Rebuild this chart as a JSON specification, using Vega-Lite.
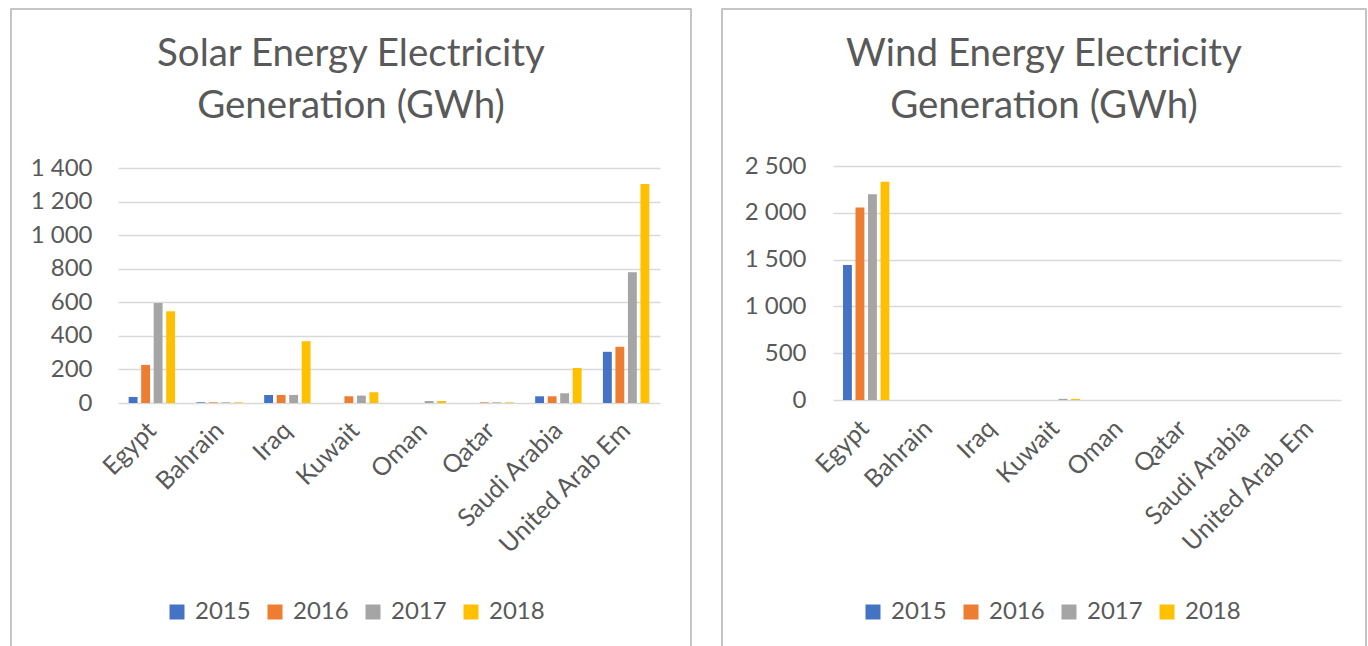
{
  "$schema": "https://vega.github.io/schema/vega-lite/v6.json",
  "background": "white",
  "padding": {"left": 10, "top": 8, "right": 0, "bottom": 0},
  "datasets": {
    "solar": [
      {"country": "Egypt", "year": "2015", "value": 36},
      {"country": "Egypt", "year": "2016", "value": 227},
      {"country": "Egypt", "year": "2017", "value": 596},
      {"country": "Egypt", "year": "2018", "value": 546},
      {"country": "Bahrain", "year": "2015", "value": 4},
      {"country": "Bahrain", "year": "2016", "value": 4},
      {"country": "Bahrain", "year": "2017", "value": 4},
      {"country": "Bahrain", "year": "2018", "value": 4},
      {"country": "Iraq", "year": "2015", "value": 48},
      {"country": "Iraq", "year": "2016", "value": 48},
      {"country": "Iraq", "year": "2017", "value": 48},
      {"country": "Iraq", "year": "2018", "value": 368},
      {"country": "Kuwait", "year": "2015", "value": 0},
      {"country": "Kuwait", "year": "2016", "value": 40},
      {"country": "Kuwait", "year": "2017", "value": 44},
      {"country": "Kuwait", "year": "2018", "value": 64},
      {"country": "Oman", "year": "2015", "value": 0},
      {"country": "Oman", "year": "2016", "value": 0},
      {"country": "Oman", "year": "2017", "value": 12},
      {"country": "Oman", "year": "2018", "value": 12},
      {"country": "Qatar", "year": "2015", "value": 0},
      {"country": "Qatar", "year": "2016", "value": 4},
      {"country": "Qatar", "year": "2017", "value": 4},
      {"country": "Qatar", "year": "2018", "value": 4},
      {"country": "Saudi Arabia", "year": "2015", "value": 40},
      {"country": "Saudi Arabia", "year": "2016", "value": 40},
      {"country": "Saudi Arabia", "year": "2017", "value": 58},
      {"country": "Saudi Arabia", "year": "2018", "value": 209},
      {"country": "United Arab Em", "year": "2015", "value": 305},
      {"country": "United Arab Em", "year": "2016", "value": 335},
      {"country": "United Arab Em", "year": "2017", "value": 779},
      {"country": "United Arab Em", "year": "2018", "value": 1305}
    ],
    "wind": [
      {"country": "Egypt", "year": "2015", "value": 1442},
      {"country": "Egypt", "year": "2016", "value": 2056},
      {"country": "Egypt", "year": "2017", "value": 2198},
      {"country": "Egypt", "year": "2018", "value": 2333},
      {"country": "Bahrain", "year": "2015", "value": 0},
      {"country": "Bahrain", "year": "2016", "value": 0},
      {"country": "Bahrain", "year": "2017", "value": 0},
      {"country": "Bahrain", "year": "2018", "value": 0},
      {"country": "Iraq", "year": "2015", "value": 0},
      {"country": "Iraq", "year": "2016", "value": 0},
      {"country": "Iraq", "year": "2017", "value": 0},
      {"country": "Iraq", "year": "2018", "value": 0},
      {"country": "Kuwait", "year": "2015", "value": 0},
      {"country": "Kuwait", "year": "2016", "value": 0},
      {"country": "Kuwait", "year": "2017", "value": 12},
      {"country": "Kuwait", "year": "2018", "value": 12},
      {"country": "Oman", "year": "2015", "value": 0},
      {"country": "Oman", "year": "2016", "value": 0},
      {"country": "Oman", "year": "2017", "value": 0},
      {"country": "Oman", "year": "2018", "value": 0},
      {"country": "Qatar", "year": "2015", "value": 0},
      {"country": "Qatar", "year": "2016", "value": 0},
      {"country": "Qatar", "year": "2017", "value": 0},
      {"country": "Qatar", "year": "2018", "value": 0},
      {"country": "Saudi Arabia", "year": "2015", "value": 0},
      {"country": "Saudi Arabia", "year": "2016", "value": 0},
      {"country": "Saudi Arabia", "year": "2017", "value": 0},
      {"country": "Saudi Arabia", "year": "2018", "value": 0},
      {"country": "United Arab Em", "year": "2015", "value": 0},
      {"country": "United Arab Em", "year": "2016", "value": 0},
      {"country": "United Arab Em", "year": "2017", "value": 0},
      {"country": "United Arab Em", "year": "2018", "value": 0}
    ]
  },
  "hconcat": [
    {
      "data": {"name": "solar"},
      "width": 680,
      "height": 660,
      "title": {"text": ["Solar Energy Electricity", "Generation (GWh)"], "offset": -117},
      "mark": {"type": "bar"},
      "encoding": {
        "x": {
          "field": "country", "type": "nominal", "sort": null,
          "scale": {"range": [107, 649], "paddingInner": 0.315, "paddingOuter": 0.1575},
          "axis": {"orient": "bottom", "title": null, "labelAngle": -45, "labelAlign": "right", "labelBaseline": "middle", "labelPadding": -243, "labelDx": 3, "labelFontSize": 25, "ticks": false, "tickSize": 0, "domain": false, "grid": false, "labelOverlap": false}
        },
        "xOffset": {"field": "year", "type": "nominal", "scale": {"paddingInner": 0.29, "paddingOuter": 0}},
        "y": {
          "field": "value", "type": "quantitative",
          "scale": {"domain": [0, 1400], "range": [394, 159], "nice": false, "zero": true},
          "axis": {"title": null, "values": [0, 200, 400, 600, 800, 1000, 1200, 1400], "format": ",d", "domain": false, "ticks": false, "tickSize": 0, "labelPadding": -81, "grid": true}
        },
        "color": {
          "field": "year", "type": "nominal",
          "scale": {"domain": ["2015", "2016", "2017", "2018"], "range": ["#4472C4", "#ED7D31", "#A5A5A5", "#FFC000"]},
          "legend": {"orient": "none", "legendX": 154, "legendY": 591, "direction": "horizontal", "title": null}
        }
      }
    },
    {
      "data": {"name": "wind"},
      "width": 644,
      "height": 660,
      "title": {"text": ["Wind Energy Electricity", "Generation (GWh)"], "offset": -117},
      "mark": {"type": "bar"},
      "encoding": {
        "x": {
          "field": "country", "type": "nominal", "sort": null,
          "scale": {"range": [111, 619], "paddingInner": 0.315, "paddingOuter": 0.1575},
          "axis": {"orient": "bottom", "title": null, "labelAngle": -45, "labelAlign": "right", "labelBaseline": "middle", "labelPadding": -245, "labelDx": 3, "labelFontSize": 25, "ticks": false, "tickSize": 0, "domain": false, "grid": false, "labelOverlap": false}
        },
        "xOffset": {"field": "year", "type": "nominal", "scale": {"paddingInner": 0.29, "paddingOuter": 0}},
        "y": {
          "field": "value", "type": "quantitative",
          "scale": {"domain": [0, 2500], "range": [391, 157], "nice": false, "zero": true},
          "axis": {"title": null, "values": [0, 500, 1000, 1500, 2000, 2500], "format": ",d", "domain": false, "ticks": false, "tickSize": 0, "labelPadding": -84, "grid": true}
        },
        "color": {
          "field": "year", "type": "nominal",
          "scale": {"domain": ["2015", "2016", "2017", "2018"], "range": ["#4472C4", "#ED7D31", "#A5A5A5", "#FFC000"]},
          "legend": {"orient": "none", "legendX": 139, "legendY": 591, "direction": "horizontal", "title": null}
        }
      }
    }
  ],
  "spacing": 29,
  "resolve": {"scale": {"color": "independent", "x": "independent", "y": "independent"}, "legend": {"color": "independent"}},
  "config": {
    "locale": {"number": {"decimal": ",", "thousands": " ", "grouping": [3], "currency": ["", ""]}},
    "font": "Lato",
    "view": {"stroke": "#b3b3b3", "strokeWidth": 1.5},
    "title": {"font": "Lato", "fontSize": 38.5, "fontWeight": "normal", "color": "#595959", "anchor": "middle", "lineHeight": 52},
    "axis": {"labelFont": "Lato", "labelFontSize": 24, "labelColor": "#595959", "gridColor": "#d9d9d9", "gridWidth": 1.3},
    "legend": {"labelFont": "Lato", "labelFontSize": 24, "labelColor": "#595959", "symbolType": "square", "symbolSize": 225, "symbolStrokeWidth": 0, "labelOffset": 6, "columnPadding": 12}
  }
}
